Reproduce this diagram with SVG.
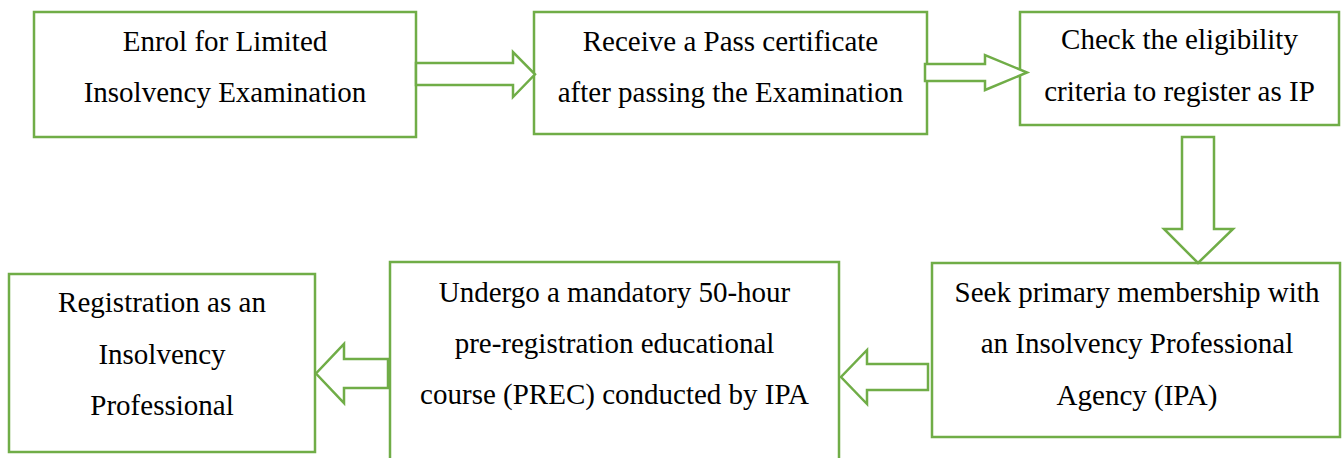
<svg xmlns="http://www.w3.org/2000/svg" width="1342" height="458" viewBox="0 0 1342 458">
<style>
.box{fill:#ffffff;stroke:#70AD47;stroke-width:2.5}
.arr{fill:#ffffff;stroke:#70AD47;stroke-width:2.5;stroke-linejoin:miter}
text{font-family:"Liberation Serif","Times New Roman",serif;font-size:29px;fill:#000000;text-anchor:middle}
</style>
<rect width="1342" height="458" fill="#ffffff"/>
<g id="n1">
<rect class="box" x="34" y="12" width="382" height="125"/>
<text x="225" y="51">Enrol for Limited</text>
<text x="225" y="102">Insolvency Examination</text>
</g>
<g id="n2">
<rect class="box" x="534" y="12" width="393" height="122"/>
<text x="730.5" y="51">Receive a Pass certificate</text>
<text x="730.5" y="102">after passing the Examination</text>
</g>
<g id="n3">
<rect class="box" x="1020" y="12" width="319" height="113"/>
<text x="1179.5" y="49">Check the eligibility</text>
<text x="1179.5" y="101">criteria to register as IP</text>
</g>
<g id="n4">
<rect class="box" x="932" y="263" width="408" height="174"/>
<text x="1137" y="302">Seek primary membership with</text>
<text x="1137" y="353">an Insolvency Professional</text>
<text x="1137" y="405">Agency (IPA)</text>
</g>
<g id="n5">
<rect class="box" x="390" y="262" width="449" height="210"/>
<text x="614.5" y="302">Undergo a mandatory 50-hour</text>
<text x="614.5" y="353">pre-registration educational</text>
<text x="614.5" y="404">course (PREC) conducted by IPA</text>
</g>
<g id="n6">
<rect class="box" x="9" y="274" width="306" height="178"/>
<text x="162" y="312">Registration as an</text>
<text x="162" y="364">Insolvency</text>
<text x="162" y="415">Professional</text>
</g>
<g id="connectors">
<polygon class="arr" points="416,63 513,63 513,52 535,74.3 513,97 513,85 416,85"/>
<polygon class="arr" points="925,64 985,64 985,55 1027,72.5 985,90 985,81 925,81"/>
<polygon class="arr" points="1182,137 1214,137 1214,229 1233,229 1198,263 1164,229 1182,229"/>
<polygon class="arr" points="928,364 867,364 867,350 841,377 867,404 867,390 928,390"/>
<polygon class="arr" points="388,359 344,359 344,344 316,373.5 344,403 344,388 388,388"/>
</g>
</svg>
